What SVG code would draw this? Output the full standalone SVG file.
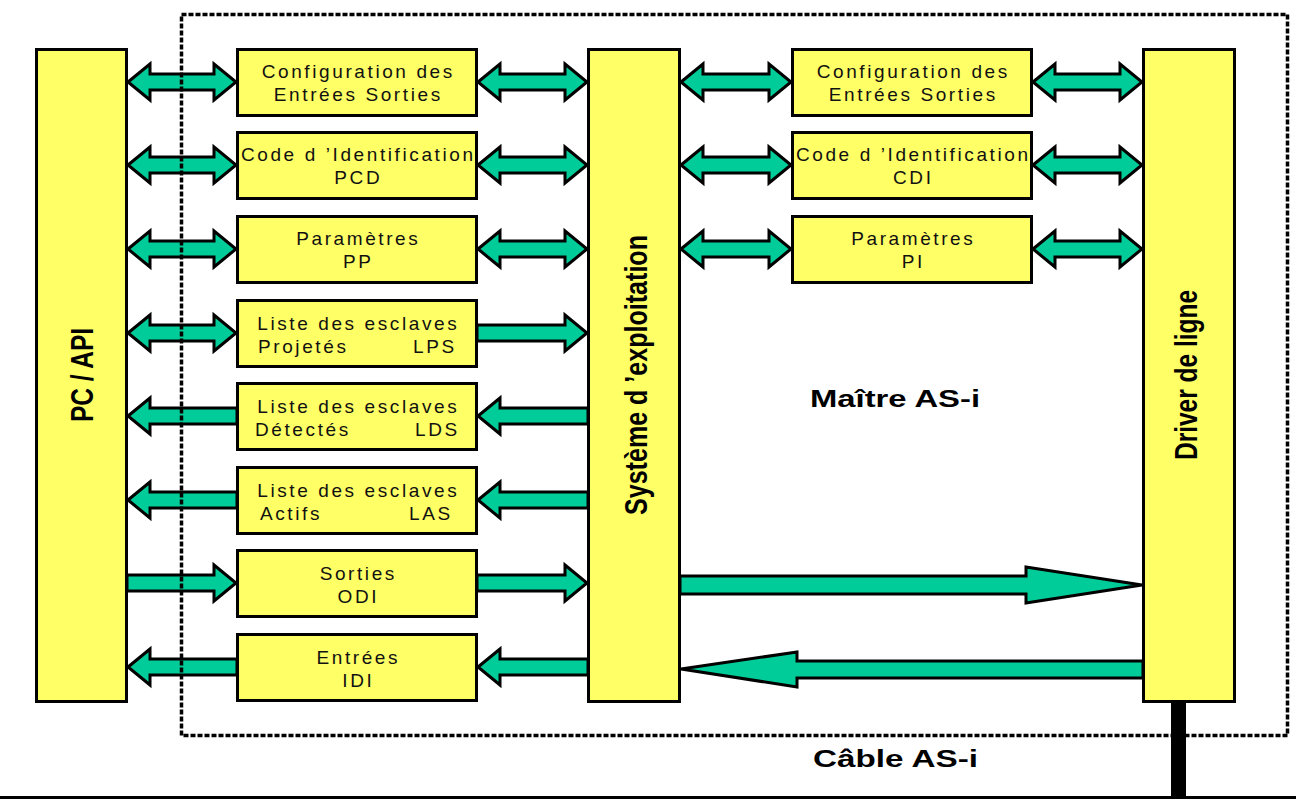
<svg xmlns="http://www.w3.org/2000/svg" width="1296" height="801" viewBox="0 0 1296 801">
<style>
.box{fill:#FFFF66;stroke:#000;stroke-width:3}
.arr{fill:#00CC99;stroke:#000;stroke-width:3;stroke-linejoin:miter}
.t{font-family:"Liberation Sans",Arial,sans-serif;font-size:19px;letter-spacing:2.6px;fill:#111}
.c{text-anchor:middle}
.v{font-family:"Liberation Sans",Arial,sans-serif;font-weight:bold;font-size:32px;fill:#000;text-anchor:middle}
.h{font-family:"Liberation Sans",Arial,sans-serif;font-weight:bold;font-size:24px;fill:#000}
</style>
<rect width="1296" height="801" fill="#fff"/>

<g id="connectors">
<path class="arr" d="M128 82 L150 64 L150 74 L214 74 L214 64 L236 82 L214 100 L214 90 L150 90 L150 100 Z"/>
<path class="arr" d="M128 165 L150 147 L150 157 L214 157 L214 147 L236 165 L214 183 L214 173 L150 173 L150 183 Z"/>
<path class="arr" d="M128 249 L150 231 L150 241 L214 241 L214 231 L236 249 L214 267 L214 257 L150 257 L150 267 Z"/>
<path class="arr" d="M128 333 L150 315 L150 325 L214 325 L214 315 L236 333 L214 351 L214 341 L150 341 L150 351 Z"/>
<path class="arr" d="M128 416 L150 398 L150 408 L237 408 L237 424 L150 424 L150 434 Z"/>
<path class="arr" d="M128 500 L150 482 L150 492 L237 492 L237 508 L150 508 L150 518 Z"/>
<path class="arr" d="M127 575 L214 575 L214 565 L236 583 L214 601 L214 591 L127 591 Z"/>
<path class="arr" d="M128 667 L150 649 L150 659 L237 659 L237 675 L150 675 L150 685 Z"/>
<path class="arr" d="M478 82 L500 64 L500 74 L565 74 L565 64 L587 82 L565 100 L565 90 L500 90 L500 100 Z"/>
<path class="arr" d="M478 165 L500 147 L500 157 L565 157 L565 147 L587 165 L565 183 L565 173 L500 173 L500 183 Z"/>
<path class="arr" d="M478 249 L500 231 L500 241 L565 241 L565 231 L587 249 L565 267 L565 257 L500 257 L500 267 Z"/>
<path class="arr" d="M477 325 L565 325 L565 315 L587 333 L565 351 L565 341 L477 341 Z"/>
<path class="arr" d="M478 416 L500 398 L500 408 L588 408 L588 424 L500 424 L500 434 Z"/>
<path class="arr" d="M478 500 L500 482 L500 492 L588 492 L588 508 L500 508 L500 518 Z"/>
<path class="arr" d="M477 575 L565 575 L565 565 L587 583 L565 601 L565 591 L477 591 Z"/>
<path class="arr" d="M478 667 L500 649 L500 659 L588 659 L588 675 L500 675 L500 685 Z"/>
<path class="arr" d="M681 82 L703 64 L703 74 L769 74 L769 64 L791 82 L769 100 L769 90 L703 90 L703 100 Z"/>
<path class="arr" d="M681 165 L703 147 L703 157 L769 157 L769 147 L791 165 L769 183 L769 173 L703 173 L703 183 Z"/>
<path class="arr" d="M681 249 L703 231 L703 241 L769 241 L769 231 L791 249 L769 267 L769 257 L703 257 L703 267 Z"/>
<path class="arr" d="M1033 82 L1055 64 L1055 74 L1120 74 L1120 64 L1142 82 L1120 100 L1120 90 L1055 90 L1055 100 Z"/>
<path class="arr" d="M1033 165 L1055 147 L1055 157 L1120 157 L1120 147 L1142 165 L1120 183 L1120 173 L1055 173 L1055 183 Z"/>
<path class="arr" d="M1033 249 L1055 231 L1055 241 L1120 241 L1120 231 L1142 249 L1120 267 L1120 257 L1055 257 L1055 267 Z"/>
<path class="arr" d="M680 576 L1026 576 L1026 567 L1142 585 L1026 603 L1026 594 L680 594 Z"/>
<path class="arr" d="M681 669 L797 652 L797 661 L1143 661 L1143 678 L797 678 L797 687 Z"/>
</g>

<g id="pc-api">
<rect class="box" x="36.5" y="49.5" width="90" height="652"/>
<text class="v" transform="translate(93,375) rotate(-90)" textLength="94" lengthAdjust="spacingAndGlyphs">PC / API</text>
</g>

<g id="cfg-es-1">
<rect class="box" x="237.5" y="49.5" width="239" height="66"/>
<text class="t c" x="358.3" y="78">Configuration des</text>
<text class="t c" x="358.3" y="101">Entrées Sorties</text>
</g>
<g id="code-pcd">
<rect class="box" x="237.5" y="132.5" width="239" height="66"/>
<text class="t c" x="358.3" y="161">Code d ’Identification</text>
<text class="t c" x="358.3" y="184">PCD</text>
</g>
<g id="param-pp">
<rect class="box" x="237.5" y="216.5" width="239" height="66"/>
<text class="t c" x="358.3" y="245">Paramètres</text>
<text class="t c" x="358.3" y="268">PP</text>
</g>
<g id="lps">
<rect class="box" x="237.5" y="300.5" width="239" height="66"/>
<text class="t c" x="358.3" y="330">Liste des esclaves</text>
<text class="t" x="258" y="353">Projetés</text>
<text class="t" x="413" y="353">LPS</text>
</g>
<g id="lds">
<rect class="box" x="237.5" y="383.5" width="239" height="66"/>
<text class="t c" x="358.3" y="413">Liste des esclaves</text>
<text class="t" x="255" y="436">Détectés</text>
<text class="t" x="415" y="436">LDS</text>
</g>
<g id="las">
<rect class="box" x="237.5" y="467.5" width="239" height="66"/>
<text class="t c" x="358.3" y="497">Liste des esclaves</text>
<text class="t" x="260" y="520">Actifs</text>
<text class="t" x="409" y="520">LAS</text>
</g>
<g id="odi">
<rect class="box" x="237.5" y="550.5" width="239" height="66"/>
<text class="t c" x="358.3" y="580">Sorties</text>
<text class="t c" x="358.3" y="603">ODI</text>
</g>
<g id="idi">
<rect class="box" x="237.5" y="634.5" width="239" height="66"/>
<text class="t c" x="358.3" y="664">Entrées</text>
<text class="t c" x="358.3" y="687">IDI</text>
</g>

<g id="systeme">
<rect class="box" x="588.5" y="49.5" width="91" height="652"/>
<text class="v" transform="translate(647,375) rotate(-90)" textLength="280" lengthAdjust="spacingAndGlyphs">Système d ’exploitation</text>
</g>

<g id="cfg-es-2">
<rect class="box" x="792.5" y="49.5" width="239" height="66"/>
<text class="t c" x="913.3" y="78">Configuration des</text>
<text class="t c" x="913.3" y="101">Entrées Sorties</text>
</g>
<g id="code-cdi">
<rect class="box" x="792.5" y="132.5" width="239" height="66"/>
<text class="t c" x="913.3" y="161">Code d ’Identification</text>
<text class="t c" x="913.3" y="184">CDI</text>
</g>
<g id="param-pi">
<rect class="box" x="792.5" y="216.5" width="239" height="66"/>
<text class="t c" x="913.3" y="245">Paramètres</text>
<text class="t c" x="913.3" y="268">PI</text>
</g>

<g id="driver">
<rect class="box" x="1143.5" y="49.5" width="91" height="652"/>
<text class="v" transform="translate(1197,375) rotate(-90)" textLength="170" lengthAdjust="spacingAndGlyphs">Driver de ligne</text>
</g>

<g id="maitre-boundary">
<rect x="181.5" y="14.5" width="1106" height="721" fill="none" stroke="#000" stroke-width="3.5" stroke-dasharray="5 2"/>
<text class="h" x="810" y="407" textLength="170" lengthAdjust="spacingAndGlyphs">Maître AS-i</text>
</g>

<g id="cable">
<rect x="1171" y="702" width="15" height="96" fill="#000"/>
<line x1="0" y1="797.5" x2="1296" y2="797.5" stroke="#000" stroke-width="3"/>
<text class="h" x="813" y="767" textLength="165" lengthAdjust="spacingAndGlyphs">Câble AS-i</text>
</g>
</svg>
